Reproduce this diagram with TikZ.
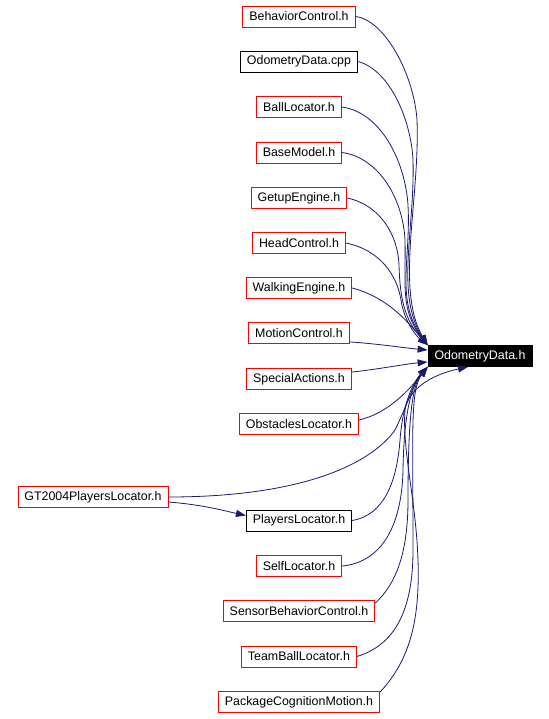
\documentclass[tikz,border=0pt]{standalone}
\usepackage{fontspec}
\setmainfont{Liberation Sans}
\usetikzlibrary{calc}
\usetikzlibrary{arrows.meta}
\definecolor{edgeblue}{RGB}{25,25,112}

\begin{document}
\begin{tikzpicture}[x=1pt,y=-1pt,
  box/.style={draw=red,line width=0.8pt,minimum height=21pt,inner xsep=6.5pt,inner ysep=0pt,font=\fontsize{12.4}{14}\selectfont},
  plainbox/.style={box,draw=black},
  target/.style={box,fill=black,text=white,draw=black},
  dep/.style={edgeblue,line width=0.8pt,-{Triangle[length=10pt,width=7pt]}}]
\useasboundingbox (0,0) rectangle (548,719);
% files that include OdometryData.h
\node[box] (behav) at (299,16.5) {BehaviorControl.h};
\node[plainbox] (odocpp) at (299,61.5) {OdometryData.cpp};
\node[box] (ball) at (299,107) {BallLocator.h};
\node[box] (base) at (299,152.5) {BaseModel.h};
\node[box] (getup) at (299,198) {GetupEngine.h};
\node[box] (head) at (299,243) {HeadControl.h};
\node[box] (walk) at (299,288) {WalkingEngine.h};
\node[box] (motion) at (299,333) {MotionControl.h};
\node[box] (special) at (299,379) {SpecialActions.h};
\node[box] (obst) at (299,424) {ObstaclesLocator.h};
\node[box] (gt) at (93,497) {GT2004PlayersLocator.h};
\node[plainbox] (pl) at (299,520.5) {PlayersLocator.h};
\node[box] (self) at (299,566) {SelfLocator.h};
\node[box] (sbc) at (299,611) {SensorBehaviorControl.h};
\node[box] (tbl) at (299,656.5) {TeamBallLocator.h};
\node[box] (pcm) at (299,702) {PackageCognitionMotion.h};
\node[target] (odo) at (480,356) {OdometryData.h};
% dependencies
\draw[dep] (behav.east) .. controls (385,20) and (414,75) .. (417,120) .. controls (420,200) and (395,290) .. (odo.north west);
\draw[dep] (odocpp.east) .. controls (390,70) and (411,120) .. (413,160) .. controls (415,230) and (395,295) .. (odo.north west);
\draw[dep] (ball.east) .. controls (380,112) and (405,160) .. (408,205) .. controls (411,260) and (395,300) .. (odo.north west);
\draw[dep] (base.east) .. controls (380,158) and (403,200) .. (405,240) .. controls (406,285) and (400,310) .. (odo.north west);
\draw[dep] (getup.east) .. controls (380,205) and (398,235) .. (399,265) .. controls (400,300) and (405,320) .. (odo.north west);
\draw[dep] (head.east) .. controls (380,250) and (397,275) .. (401,300) .. controls (404,320) and (415,335) .. (odo.north west);
\draw[dep] (walk.east) .. controls (390,298) and (410,325) .. (odo.north west);
\draw[dep] ($(motion.south east)+(0,-2)$) .. controls (380,344) and (405,348) .. ($(odo.west)+(0,-6)$);
\draw[dep] ($(special.north east)+(0,4)$) .. controls (380,369) and (405,364) .. ($(odo.west)+(0,6)$);
\draw[dep] ($(obst.east)+(0,-4)$) .. controls (385,414) and (405,395) .. (odo.south west);
\draw[dep] (gt.east) .. controls (300,497) and (370,465) .. (395,430) .. controls (405,410) and (415,380) .. (odo.south west);
\draw[dep] ($(gt.east)+(0,5)$) .. controls (205,505) and (225,511) .. ($(pl.west)+(0,-5)$);
\draw[dep] (pl.east) .. controls (385,515) and (397,480) .. (400,440) .. controls (403,400) and (415,380) .. (odo.south west);
\draw[dep] (self.east) .. controls (385,562) and (402,520) .. (403,470) .. controls (404,410) and (412,385) .. (odo.south west);
\draw[dep] ($(sbc.north east)+(0,3)$) .. controls (395,585) and (408,555) .. (408,500) .. controls (408,420) and (412,385) .. (odo.south west);
\draw[dep] (tbl.east) .. controls (395,645) and (413,610) .. (413,550) .. controls (413,430) and (410,390) .. (odo.south west);
\draw[dep] ($(pcm.north east)+(0,1)$) .. controls (410,660) and (420,620) .. (418,560) .. controls (416,500) and (402,450) .. (405,410) .. controls (408,390) and (430,375) .. ($(odo.south)+(-12,0)$);
\end{tikzpicture}
\end{document}
